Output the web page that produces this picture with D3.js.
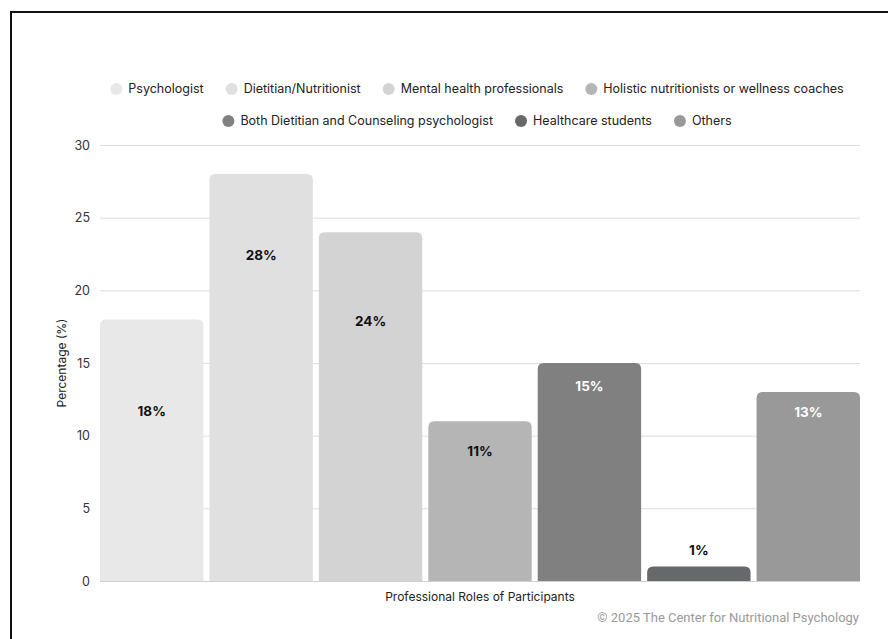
<!DOCTYPE html>
<html lang="en">
<head>
<meta charset="UTF-8">
<title>Professional Roles of Participants</title>
<style>
  body { margin: 0; background: #fff; }
  text { font-family: Inter, "Noto Sans", sans-serif; }
</style>
</head>
<body>
<script src="https://d3js.org/d3.v7.min.js"></script>
<script>
// data
var roles = ["Psychologist", "Dietitian/Nutritionist", "Mental health professionals",
  "Holistic nutritionists or wellness coaches", "Both Dietitian and Counseling psychologist",
  "Healthcare students", "Others"];
var percents = [18, 28, 24, 11, 15, 1, 13];
var labelAt = [11.7, 22.4, 17.9, 8.9, 13.4, 2.1, 11.6];   // where each value label sits, in axis units
var colors = ["#e8e8e8", "#e0e0e0", "#d3d3d3", "#b5b5b5", "#808080", "#666869", "#999999"];
var labelColors = ["#111", "#111", "#111", "#111", "#fff", "#111", "#fff"];
var yTicks = [0, 5, 10, 15, 20, 25, 30];
var legendRows = [[0, 1, 2, 3], [4, 5, 6]];

var width = 888, height = 639;
// note: "top" is reserved on window, so use plot* names
var plotLeft = 100, plotRight = 860, plotTop = 145, plotBottom = 581;

var svg = d3.select("body").append("svg")
  .attr("width", width)
  .attr("height", height);

// frame line
svg.append("path")
  .attr("d", "M11," + height + "V12H" + width)
  .attr("fill", "none")
  .attr("stroke", "#111")
  .attr("stroke-width", 2);

var x = d3.scaleBand().domain(d3.range(roles.length)).range([plotLeft, plotRight]).paddingInner(0.055).paddingOuter(0);
var y = d3.scaleLinear().domain([0, 30]).range([plotBottom, plotTop]);

// grid
svg.append("g").selectAll("line")
  .data(yTicks.filter(function (d) { return d > 0; }))
  .enter().append("line")
  .attr("x1", plotLeft).attr("x2", plotRight)
  .attr("y1", function (d) { return y(d) + 0.5; }).attr("y2", function (d) { return y(d) + 0.5; })
  .attr("stroke", "#dcdcdc").attr("stroke-width", 1);

var yAxis = svg.append("g")
  .attr("transform", "translate(" + (plotLeft - 10) + ",0)")
  .call(d3.axisLeft(y).tickValues(yTicks).tickSize(0).tickPadding(0));
yAxis.select(".domain").remove();
yAxis.selectAll("text").attr("font-size", 12.5).attr("fill", "#333").attr("font-family", "Inter, sans-serif");

// bars with rounded tops
function barPath(i) {
  var x0 = x(i), w = x.bandwidth(), y0 = y(percents[i]), yb = y(0);
  var r = Math.min(6, (yb - y0));
  return "M" + x0 + "," + yb + "V" + (y0 + r) + "Q" + x0 + "," + y0 + " " + (x0 + r) + "," + y0 +
    "H" + (x0 + w - r) + "Q" + (x0 + w) + "," + y0 + " " + (x0 + w) + "," + (y0 + r) + "V" + yb + "Z";
}
svg.append("g").selectAll("path")
  .data(percents)
  .enter().append("path")
  .attr("d", function (d, i) { return barPath(i); })
  .attr("fill", function (d, i) { return colors[i]; });

// baseline
svg.append("line")
  .attr("x1", plotLeft).attr("x2", plotRight)
  .attr("y1", y(0) + 0.5).attr("y2", y(0) + 0.5)
  .attr("stroke", "#cfcfcf");

// value labels
svg.append("g").selectAll("text")
  .data(percents)
  .enter().append("text")
  .attr("x", function (d, i) { return x(i) + x.bandwidth() / 2; })
  .attr("y", function (d, i) { return y(labelAt[i]); })
  .attr("dy", "0.35em")
  .attr("text-anchor", "middle")
  .attr("font-size", 13.5)
  .attr("font-weight", 700)
  .attr("fill", function (d, i) { return labelColors[i]; })
  .text(function (d) { return d + "%"; });

// legend
var legendY = [89, 121];
legendRows.forEach(function (row, r) {
  var g = svg.append("g");
  var pos = 0;
  row.forEach(function (idx) {
    var item = g.append("g").attr("transform", "translate(" + pos + ",0)");
    item.append("circle").attr("cx", 6).attr("cy", 0).attr("r", 6).attr("fill", colors[idx]);
    var t = item.append("text").attr("x", 18).attr("y", 0).attr("dy", "0.35em")
      .attr("font-size", 12.5).attr("fill", "#222").text(roles[idx]);
    pos += 18 + t.node().getComputedTextLength() + 22;
  });
  var total = pos - 22;
  g.attr("transform", "translate(" + (477 - total / 2) + "," + legendY[r] + ")");
});

// axis titles
svg.append("text")
  .attr("transform", "translate(66," + ((plotTop + plotBottom) / 2) + ") rotate(-90)")
  .attr("text-anchor", "middle")
  .attr("font-size", 12)
  .attr("fill", "#222")
  .text("Percentage (%)");

svg.append("text")
  .attr("x", (plotLeft + plotRight) / 2)
  .attr("y", 601)
  .attr("text-anchor", "middle")
  .attr("font-size", 12)
  .attr("fill", "#222")
  .text("Professional Roles of Participants");

svg.append("text")
  .attr("x", plotRight - 1)
  .attr("y", 622)
  .attr("text-anchor", "end")
  .attr("font-size", 13)
  .attr("fill", "#9a9a9a")
  .style("font-family", "Roboto, sans-serif")
  .text("© 2025 The Center for Nutritional Psychology");
</script>
</body>
</html>
